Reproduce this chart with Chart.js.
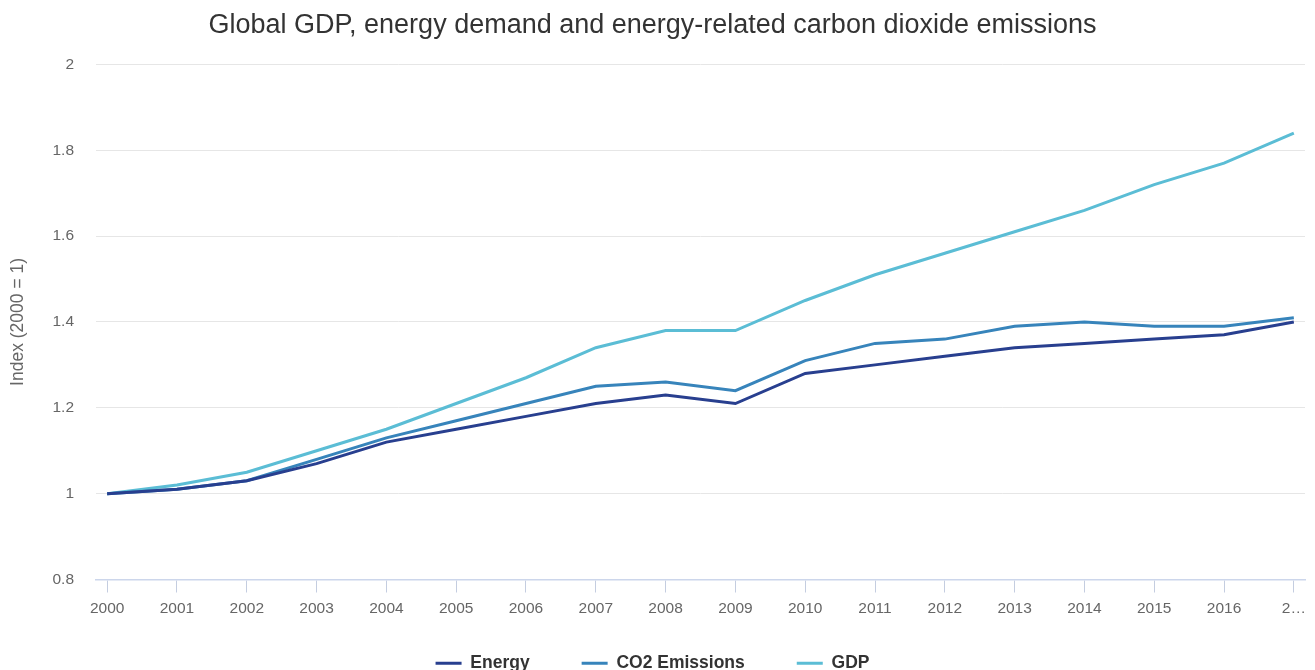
<!DOCTYPE html>
<html>
<head>
<meta charset="utf-8">
<script src="https://cdn.jsdelivr.net/npm/chart.js@4"></script>
<style>
  html, body { margin: 0; padding: 0; background: #fff; }
  #wrap { width: 1315px; height: 670px; position: relative; }
</style>
</head>
<body>
<div id="wrap"><canvas id="chart"></canvas></div>
<script>
const YEARS = [2000, 2001, 2002, 2003, 2004, 2005, 2006, 2007, 2008, 2009, 2010, 2011, 2012, 2013, 2014, 2015, 2016, 2017];
const ENERGY = [1.00, 1.01, 1.03, 1.07, 1.12, 1.15, 1.18, 1.21, 1.23, 1.21, 1.28, 1.30, 1.32, 1.34, 1.35, 1.36, 1.37, 1.40];
const CO2 = [1.00, 1.01, 1.03, 1.08, 1.13, 1.17, 1.21, 1.25, 1.26, 1.24, 1.31, 1.35, 1.36, 1.39, 1.40, 1.39, 1.39, 1.41];
const GDP = [1.00, 1.02, 1.05, 1.10, 1.15, 1.21, 1.27, 1.34, 1.38, 1.38, 1.45, 1.51, 1.56, 1.61, 1.66, 1.72, 1.77, 1.84];

const FONT = "'Liberation Sans', Arial, sans-serif";

function series(label, values, color) {
  return {
    label,
    data: YEARS.map((y, i) => ({ x: y, y: values[i] })),
    borderColor: color,
    backgroundColor: color,
    borderWidth: 3,
    pointRadius: 0,
    tension: 0
  };
}

// x labels sit partly in the legend's top padding, so widen the label clip box
const labelRoom = {
  id: 'labelRoom',
  afterLayout(chart) {
    const x = chart.scales.x;
    x.bottom = x.top + 50;
  }
};

new Chart(document.getElementById('chart'), {
  type: 'line',
  data: {
    datasets: [
      series('Energy', ENERGY, '#283f8f'),
      series('CO2 Emissions', CO2, '#3784bb'),
      series('GDP', GDP, '#5bbdd5')
    ]
  },
  plugins: [labelRoom],
  options: {
    responsive: true,
    maintainAspectRatio: false,
    animation: false,
    layout: { padding: { left: 0, right: 10, top: 0, bottom: -12 } },
    plugins: {
      title: {
        display: true,
        text: 'Global GDP, energy demand and energy-related carbon dioxide emissions',
        color: '#333',
        font: { family: FONT, size: 27, weight: 'normal' },
        padding: { top: 9, bottom: 23 }
      },
      legend: {
        position: 'bottom',
        labels: {
          color: '#333',
          font: { family: FONT, size: 17.5, weight: 'bold' },
          boxWidth: 26,
          boxHeight: 3,
          padding: 52,
          generateLabels(chart) {
            const items = Chart.defaults.plugins.legend.labels.generateLabels(chart);
            items.forEach(it => { it.lineWidth = 0; });
            return items;
          }
        }
      },
      tooltip: { enabled: false }
    },
    scales: {
      x: {
        type: 'linear',
        min: 1999.84,
        max: 2017.16,
        border: { color: '#ccd6eb', width: 1.5 },
        grid: { drawOnChartArea: false, color: '#c4cde0', tickLength: 13 },
        afterBuildTicks(axis) { axis.ticks = YEARS.map(v => ({ value: v })); },
        afterFit(axis) { axis.height = 23; },
        ticks: {
          color: '#666',
          font: { family: FONT, size: 15.5 },
          padding: 7,
          maxRotation: 0,
          autoSkip: false,
          callback: v => v === YEARS[YEARS.length - 1] ? '2…' : String(v)
        }
      },
      y: {
        min: 0.8,
        max: 2,
        border: { display: false },
        grid: { color: '#e6e6e6', drawTicks: false },
        afterFit(axis) { axis.width = 96; },
        ticks: {
          stepSize: 0.2,
          color: '#666',
          font: { family: FONT, size: 15.5 },
          padding: 22,
          callback: v => String(+v.toFixed(1))
        },
        title: {
          display: true,
          text: 'Index (2000 = 1)',
          color: '#666',
          font: { family: FONT, size: 17.5 },
          padding: { top: 8, bottom: 8 }
        }
      }
    }
  }
});
</script>
</body>
</html>
